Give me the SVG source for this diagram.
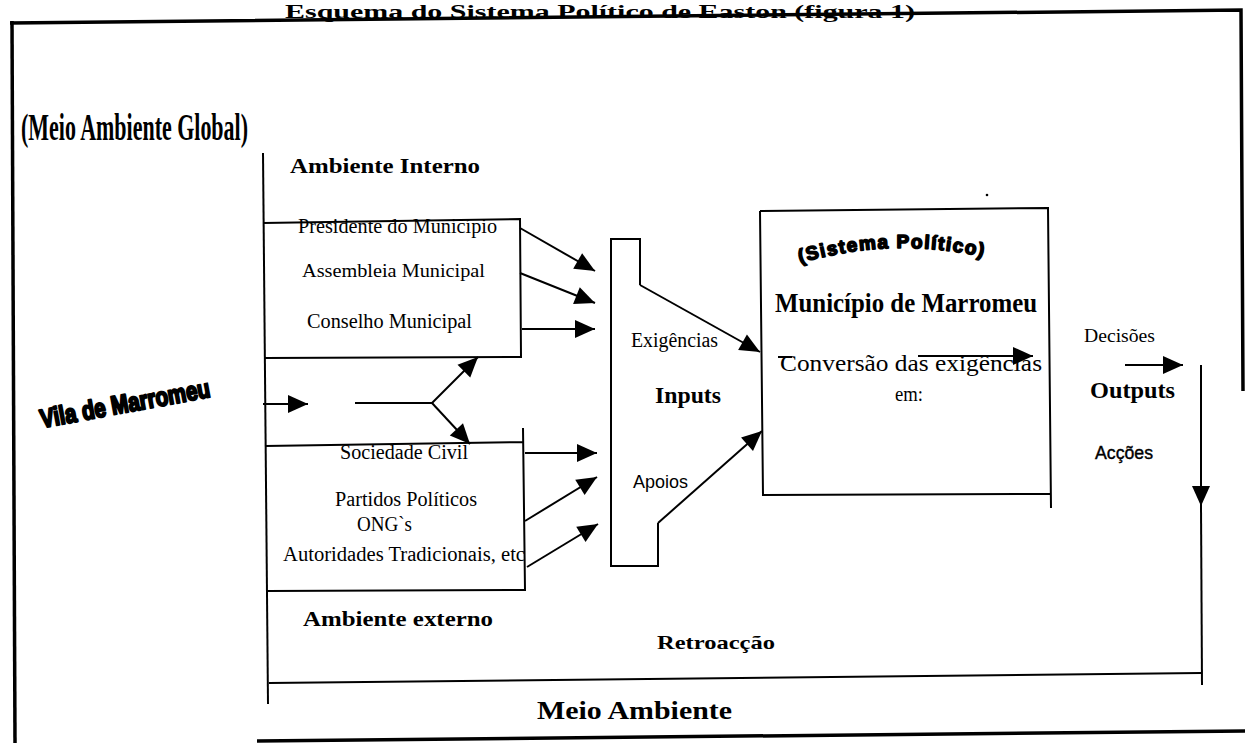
<svg xmlns="http://www.w3.org/2000/svg" width="1245" height="743" viewBox="0 0 1245 743">
<style>
.ln{stroke:#000;stroke-width:2;fill:none}
.fr{stroke:#000;stroke-width:3.5;fill:none}
.ar{stroke:#000;stroke-width:2;fill:none;marker-end:url(#ah)}
.t{font-family:"Liberation Serif","Times New Roman",serif;fill:#000}
.s{font-family:"Liberation Sans",Arial,sans-serif;fill:#000}
.b{font-weight:bold}
</style>
<defs>
<marker id="ah" markerUnits="userSpaceOnUse" markerWidth="20" markerHeight="18" refX="20" refY="9" orient="auto" overflow="visible">
<path d="M0,0 L20,9 L0,18 Z" fill="#000"/>
</marker>
<path id="arc" d="M800,263 Q900,234 1000,261"/>
</defs>
<rect width="1245" height="743" fill="#fff"/>

<g id="frame">
<text class="t b" x="285" y="17.5" font-size="19" textLength="630" lengthAdjust="spacingAndGlyphs">Esquema do Sistema Político de Easton (figura 1)</text>
<path class="fr" d="M10,23 L1241,10 L1243,391"/>
<path class="fr" d="M12,21 L15,743"/>
<path class="fr" d="M257,741 L1245,731"/>
<text class="t b" x="21" y="140" font-size="37" textLength="227" lengthAdjust="spacingAndGlyphs">(Meio Ambiente Global)</text>
</g>

<g id="ambiente">
<path class="ln" d="M263,153 L268,704"/>
<text class="t b" x="290" y="173" font-size="21" textLength="190" lengthAdjust="spacingAndGlyphs">Ambiente Interno</text>
<text class="t b" x="303" y="626" font-size="21" textLength="190" lengthAdjust="spacingAndGlyphs">Ambiente externo</text>
<text class="t b" x="657" y="649" font-size="19" textLength="118" lengthAdjust="spacingAndGlyphs">Retroacção</text>
<text class="t b" x="537" y="719" font-size="25" textLength="195" lengthAdjust="spacingAndGlyphs">Meio Ambiente</text>
</g>

<g id="vila">
<text class="s b" x="42" y="428" font-size="26" textLength="172" lengthAdjust="spacingAndGlyphs" stroke="#000" stroke-width="2.2" stroke-linejoin="round" transform="rotate(-10.5 42 428)">Vila de Marromeu</text>
</g>

<g id="interno">
<path class="ln" d="M263,223 L520,219 L521,357 L265,358"/>
<text class="t" x="298" y="233" font-size="20" textLength="199" lengthAdjust="spacingAndGlyphs">Presidente do Município</text>
<text class="t" x="302" y="277" font-size="19.5" textLength="183" lengthAdjust="spacingAndGlyphs">Assembleia Municipal</text>
<text class="t" x="307" y="328" font-size="20" textLength="165" lengthAdjust="spacingAndGlyphs">Conselho Municipal</text>
</g>

<g id="externo">
<path class="ln" d="M265,446 L524,442 M523,428 L525,590 L267,591"/>
<text class="t" x="340" y="459" font-size="20" textLength="128" lengthAdjust="spacingAndGlyphs">Sociedade Civil</text>
<text class="t" x="335" y="506" font-size="20" textLength="142" lengthAdjust="spacingAndGlyphs">Partidos Políticos</text>
<text class="t" x="357" y="531" font-size="20" textLength="55" lengthAdjust="spacingAndGlyphs">ONG`s</text>
<text class="t" x="283" y="561" font-size="20" textLength="242" lengthAdjust="spacingAndGlyphs">Autoridades Tradicionais, etc</text>
</g>

<g id="inputs">
<path class="ln" d="M640,285 L640,239 L611,239 L611,566 L658,566 L658,523"/>
<text class="t" x="631" y="347" font-size="20" textLength="87" lengthAdjust="spacingAndGlyphs">Exigências</text>
<text class="t b" x="655" y="403" font-size="24" textLength="66" lengthAdjust="spacingAndGlyphs">Inputs</text>
<text class="s" x="633" y="488" font-size="18" textLength="55" lengthAdjust="spacingAndGlyphs">Apoios</text>
</g>

<g id="sistema">
<path class="ln" d="M760,211 L1048,208 L1051,508 M1050,494 L763,495 L760,211"/>
<text class="s b" font-size="19" letter-spacing="1.5" stroke="#000" stroke-width="1.6" stroke-linejoin="round"><textPath href="#arc">(Sistema Político)</textPath></text>
<text class="t b" x="775" y="312" font-size="27" textLength="262" lengthAdjust="spacingAndGlyphs">Município de Marromeu</text>
<text class="t" x="780" y="371" font-size="23" textLength="262" lengthAdjust="spacingAndGlyphs">Conversão das exigências</text>
<text class="t" x="895" y="401" font-size="22" textLength="28" lengthAdjust="spacingAndGlyphs">em:</text>
<circle cx="987" cy="195" r="1.3" fill="#000"/>
</g>

<g id="outputs">
<text class="t" x="1084" y="342" font-size="19" textLength="71" lengthAdjust="spacingAndGlyphs">Decisões</text>
<text class="t b" x="1090" y="398" font-size="24" textLength="85" lengthAdjust="spacingAndGlyphs">Outputs</text>
<text class="s" x="1095" y="459" font-size="18" textLength="58" lengthAdjust="spacingAndGlyphs" stroke="#000" stroke-width="0.4">Acções</text>
</g>

<g id="connectors">
<path class="ar" d="M520,228 L595,271"/>
<path class="ar" d="M520,273 L595,303"/>
<path class="ar" d="M522,329 L595,329"/>
<path class="ar" d="M525,453 L597,453"/>
<path class="ar" d="M525,521 L597,477"/>
<path class="ar" d="M527,567 L598,524"/>
<path class="ar" d="M640,285 L760,352"/>
<path class="ar" d="M658,523 L762,431"/>
<path class="ar" d="M263,404 L308,404"/>
<path class="ln" d="M355,403 L432,403"/>
<path class="ar" d="M432,403 L478,357"/>
<path class="ar" d="M432,403 L470,444"/>
<path class="ln" d="M778,357 L792,357"/>
<path class="ar" d="M918,356 L1033,356"/>
<path class="ar" d="M1125,365 L1183,365"/>
<path class="ar" d="M1201,365 L1201,506"/>
<path class="ln" d="M1201,506 L1202,685"/>
<path class="ln" d="M269,683 L1201,673"/>
</g>
</svg>
